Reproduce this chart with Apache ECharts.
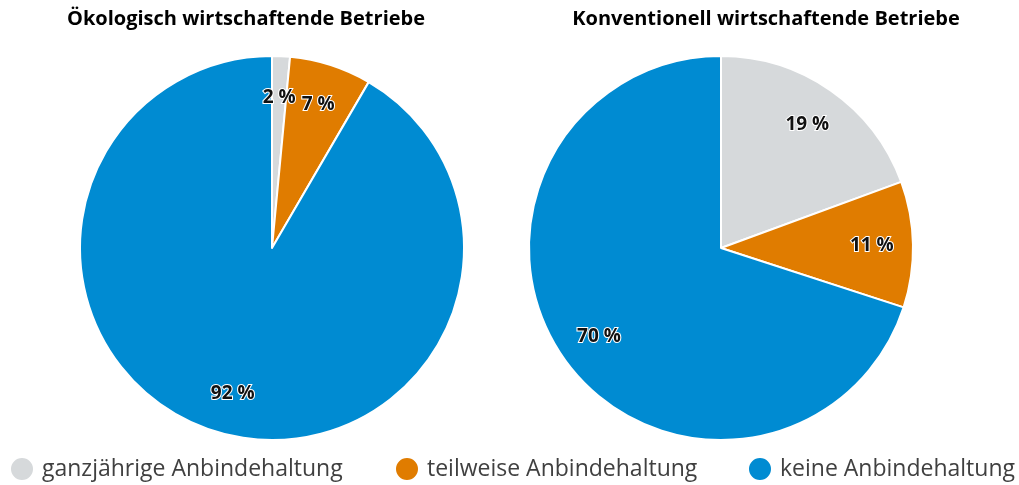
<!DOCTYPE html>
<html>
<head>
<meta charset="utf-8">
<script src="https://cdn.jsdelivr.net/npm/echarts@6/dist/echarts.min.js"></script>
<style>
  html, body { margin: 0; padding: 0; background: #fff; }
  #chart { width: 1019px; height: 485px; }
</style>
</head>
<body>
<div id="chart"></div>
<script>
var categories = ['ganzjährige Anbindehaltung', 'teilweise Anbindehaltung', 'keine Anbindehaltung'];
var colors = ['#d6d9db', '#e07c00', '#008bd2'];
var titles = ['Ökologisch wirtschaftende Betriebe', 'Konventionell wirtschaftende Betriebe'];
var oekoValues = [1.5, 6.9, 91.6];
var konvValues = [19.4, 10.6, 70.0];

var font = '"Open Sans", "Noto Sans", sans-serif';
var R = 192;
var legendLefts = [9, 394, 747];

function makeData(values) {
    return values.map(function (v, i) {
        return { name: categories[i], value: v, itemStyle: { color: colors[i] } };
    });
}

// visible pie, labels drawn by a transparent ring on top so they sit further out
function pieSeries(values, cx) {
    return [
        {
            type: 'pie',
            center: [cx, 248],
            radius: [0, R],
            startAngle: 90,
            clockwise: true,
            silent: true,
            label: { show: false },
            labelLine: { show: false },
            itemStyle: { borderColor: '#fff', borderWidth: 2 },
            data: makeData(values)
        },
        {
            type: 'pie',
            center: [cx, 248],
            radius: [R * 0.54, R],
            startAngle: 90,
            clockwise: true,
            silent: true,
            labelLine: { show: false },
            label: {
                show: true,
                position: 'inside',
                formatter: function (p) { return Math.round(p.value) + ' %'; },
                fontFamily: font,
                fontWeight: 'bold',
                fontSize: 19,
                color: '#111',
                textBorderColor: '#fff',
                textBorderWidth: 2
            },
            data: makeData(values).map(function (d) {
                d.itemStyle = { color: 'transparent' };
                return d;
            })
        }
    ];
}

var chart = echarts.init(document.getElementById('chart'));
var option = {
    animation: false,
    title: [
        { text: titles[0], left: 241, top: 4, textAlign: 'center',
          textStyle: { fontFamily: font, fontWeight: 'bold', fontSize: 20, color: '#000' } },
        { text: titles[1], left: 761, top: 4, textAlign: 'center',
          textStyle: { fontFamily: font, fontWeight: 'bold', fontSize: 20, color: '#000' } }
    ],
    legend: categories.map(function (c, i) {
        return {
            data: [c],
            left: legendLefts[i],
            top: 456,
            padding: 0,
            icon: 'circle',
            itemWidth: 24,
            itemHeight: 24,
            textStyle: { fontFamily: font, fontSize: 23, color: '#404040', padding: [0, 0, 0, 3] }
        };
    }),
    series: pieSeries(oekoValues, 272).concat(pieSeries(konvValues, 721))
};
chart.setOption(option);
</script>
</body>
</html>
